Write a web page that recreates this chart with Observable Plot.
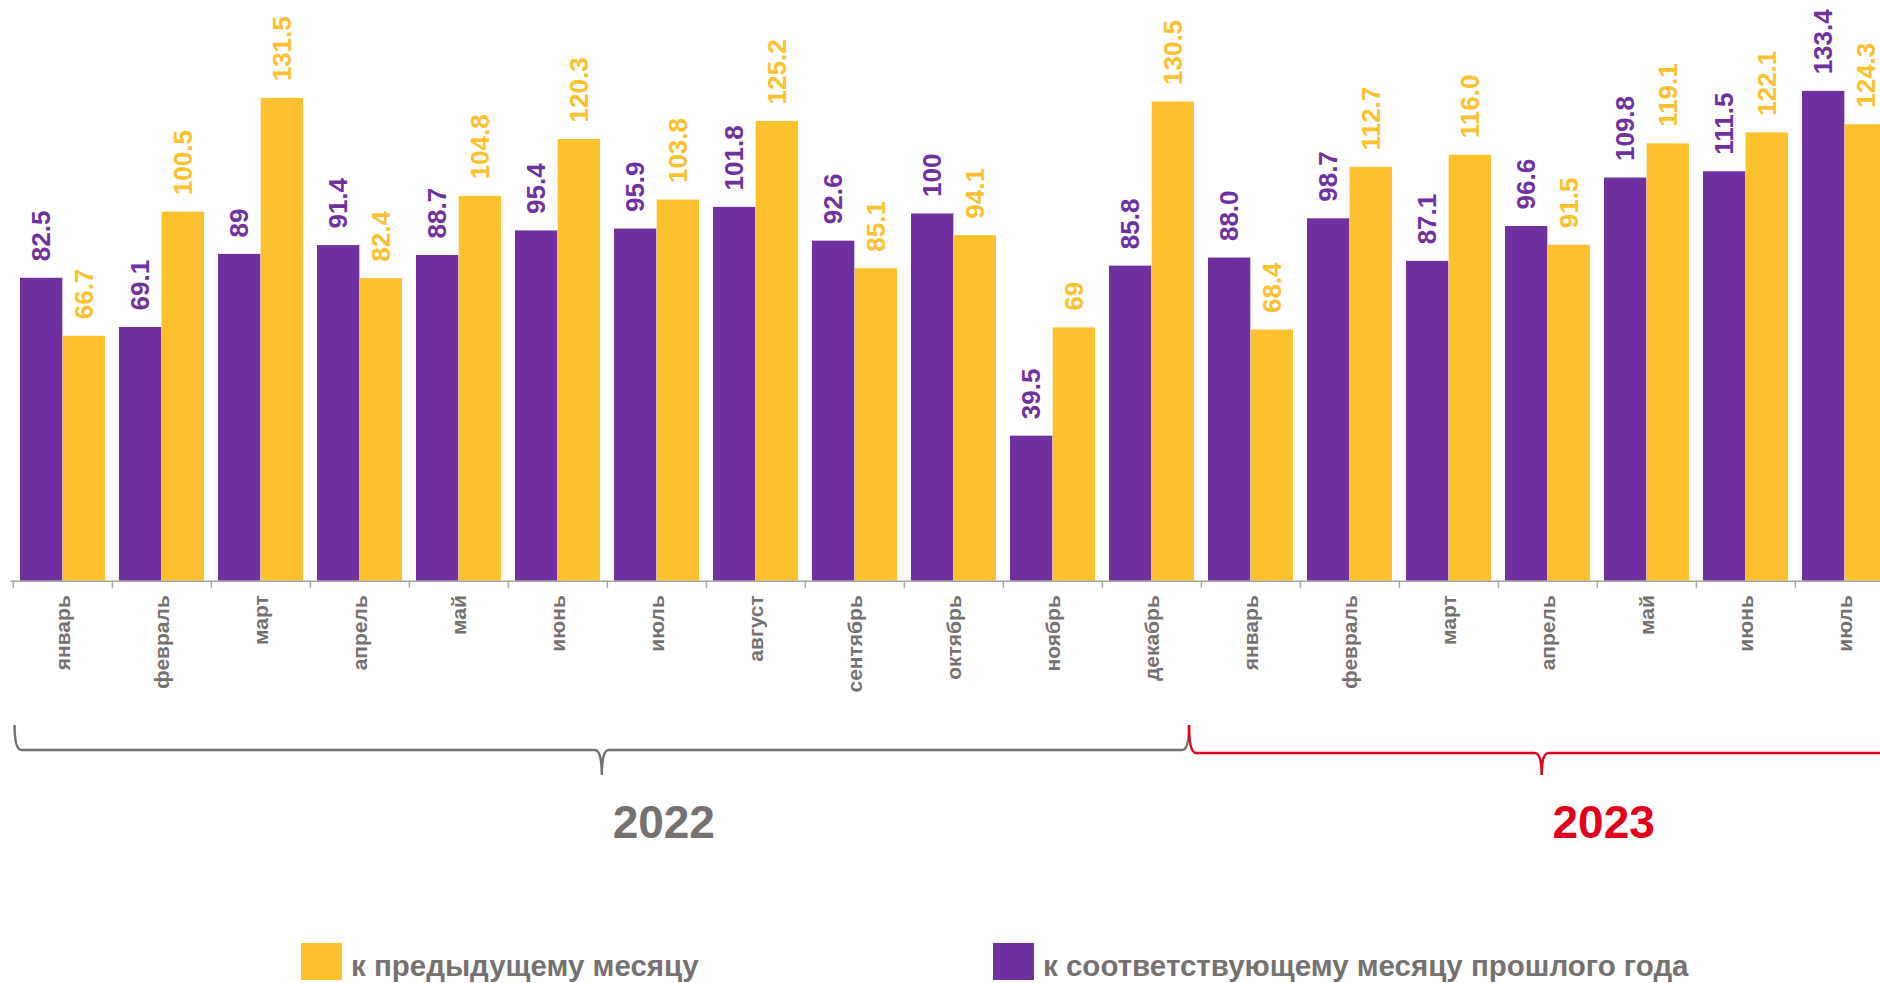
<!DOCTYPE html>
<html>
<head>
<meta charset="utf-8">
<script src="https://cdn.jsdelivr.net/npm/d3@7"></script>
<script src="https://cdn.jsdelivr.net/npm/@observablehq/plot@0.6"></script>
<style>
  html, body { margin: 0; padding: 0; background: #fff; overflow: hidden; width: 1880px; height: 983px; }
  #chart svg { display: block; max-width: none; }
  .legend { position: relative; height: 83px; font-family: "Liberation Sans", Arial, sans-serif; }
  .legend .sw { position: absolute; top: 43px; width: 41px; height: 37px; }
  .legend .lb { position: absolute; top: 51px; font-size: 29.5px; line-height: 29.5px; font-weight: bold; color: #767171; white-space: nowrap; }
</style>
</head>
<body>
<div id="chart"></div>
<div class="legend" id="legend"></div>
<script>
// ---- data ----
const months = ["2022-01","2022-02","2022-03","2022-04","2022-05","2022-06","2022-07","2022-08","2022-09","2022-10","2022-11","2022-12",
                "2023-01","2023-02","2023-03","2023-04","2023-05","2023-06","2023-07"];
const monthNames = ["январь","февраль","март","апрель","май","июнь","июль","август","сентябрь","октябрь","ноябрь","декабрь",
                    "январь","февраль","март","апрель","май","июнь","июль"];
const yoy = [82.5, 69.1, 89, 91.4, 88.7, 95.4, 95.9, 101.8, 92.6, 100, 39.5, 85.8, 88.0, 98.7, 87.1, 96.6, 109.8, 111.5, 133.4];
const yoyLabels = ["82.5","69.1","89","91.4","88.7","95.4","95.9","101.8","92.6","100","39.5","85.8","88.0","98.7","87.1","96.6","109.8","111.5","133.4"];
const mom = [66.7, 100.5, 131.5, 82.4, 104.8, 120.3, 103.8, 125.2, 85.1, 94.1, 69, 130.5, 68.4, 112.7, 116.0, 91.5, 119.1, 122.1, 124.3];
const momLabels = ["66.7","100.5","131.5","82.4","104.8","120.3","103.8","125.2","85.1","94.1","69","130.5","68.4","112.7","116.0","91.5","119.1","122.1","124.3"];
const years = ["2022", "2023"];
const yearStartIndex = [0, 12];
const legendLabels = ["к предыдущему месяцу", "к соответствующему месяцу прошлого года"];

// ---- style ----
const PURPLE = "#7030A0", GOLD = "#FEC12E", GRAY = "#767171", AXIS = "#A6A6A6", RED = "#E2001A";
const yearColors = [GRAY, RED];
const legendColors = [GOLD, PURPLE];
const legendLeft = [301, 993];

const W = 1896, H = 900, ML = 10.5, plotBottom = 580.7, pxPerUnit = 3.672;
const yMax = plotBottom / pxPerUnit;
const step = (W - ML) / months.length;
const bw = step * 0.86;

const data = months.map((m, i) => ({month: m, yoy: yoy[i], mom: mom[i], yoyLabel: yoyLabels[i], momLabel: momLabels[i]}));

const chart = Plot.plot({
  width: W, height: H,
  marginLeft: ML, marginRight: 0, marginTop: 0, marginBottom: H - plotBottom,
  style: {fontFamily: "'Liberation Sans', Arial, sans-serif", background: "#fff", overflow: "hidden", maxWidth: "none"},
  x: {domain: months, paddingInner: 0.14, paddingOuter: 0.07, label: null},
  y: {domain: [0, yMax], axis: null},
  marks: [
    Plot.barY(data, {x: "month", y: "yoy", fill: PURPLE, insetRight: bw / 2}),
    Plot.barY(data, {x: "month", y: "mom", fill: GOLD, insetLeft: bw / 2}),
    Plot.text(data, {x: "month", y: "yoy", text: "yoyLabel", dx: -bw / 4, dy: -17, rotate: -90, textAnchor: "start",
                     fill: PURPLE, fontSize: 26, fontWeight: "bold"}),
    Plot.text(data, {x: "month", y: "mom", text: "momLabel", dx: bw / 4, dy: -17, rotate: -90, textAnchor: "start",
                     fill: GOLD, fontSize: 26, fontWeight: "bold"}),
    Plot.ruleY([0], {stroke: AXIS, strokeWidth: 1.5}),
    Plot.ruleX(months, {x: d => d, dx: -step / 2, y1: 0, y2: 0, insetBottom: -7, stroke: AXIS, strokeWidth: 1.5}),
    Plot.axisX({tickRotate: -90, tickSize: 0, tickPadding: 14, tickFormat: d => monthNames[months.indexOf(d)],
                fontSize: 21, fontWeight: "bold", fill: GRAY, label: null})
  ]
});
document.getElementById("chart").appendChild(chart);

// ---- year brackets, positioned with Plot's x scale ----
const xs = chart.scale("x");
const boundary = i => (i < months.length ? xs.apply(months[i]) : xs.apply(months[months.length - 1]) + step) - step * 0.07;
const svg = d3.select(chart);
function brace(x0, x1, yTop, yLine, yTip, r) {
  const t = (x0 + x1) / 2;
  return `M${x0},${yTop} Q${x0},${yLine} ${x0 + r},${yLine} L${t - r},${yLine} Q${t},${yLine} ${t},${yTip} ` +
         `Q${t},${yLine} ${t + r},${yLine} L${x1 - r},${yLine} Q${x1},${yLine} ${x1},${yTop}`;
}
const starts = [boundary(yearStartIndex[0]) + 1.5, boundary(yearStartIndex[1]) - 12];
const ends = [starts[1], boundary(months.length)];
const lineY = [750, 753];
years.forEach((yr, k) => {
  svg.append("path").attr("d", brace(starts[k], ends[k], 725, lineY[k], 775, 7))
    .attr("fill", "none").attr("stroke", yearColors[k]).attr("stroke-width", 2.5);
  svg.append("text").attr("x", (starts[k] + ends[k]) / 2 + 62).attr("y", 838)
    .attr("text-anchor", "middle").attr("font-size", 46).attr("font-weight", "bold")
    .attr("fill", yearColors[k]).text(yr);
});

// ---- legend ----
const legend = document.getElementById("legend");
legendLabels.forEach((lab, k) => {
  const sw = document.createElement("div");
  sw.className = "sw"; sw.style.left = legendLeft[k] + "px"; sw.style.background = legendColors[k];
  const tx = document.createElement("div");
  tx.className = "lb"; tx.style.left = (legendLeft[k] + 50) + "px"; tx.textContent = lab;
  legend.appendChild(sw); legend.appendChild(tx);
});
</script>
</body>
</html>
